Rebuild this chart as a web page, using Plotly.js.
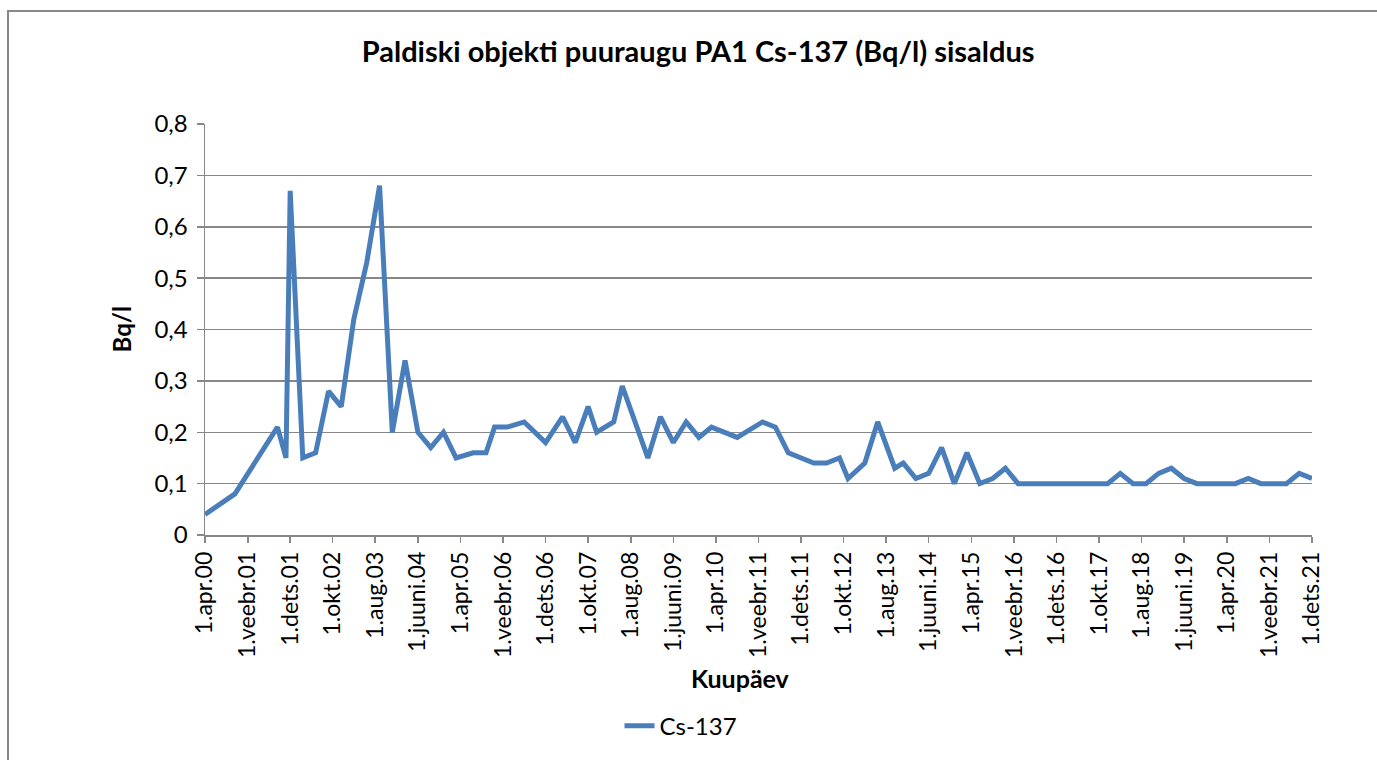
<!DOCTYPE html>
<html>
<head>
<meta charset="utf-8">
<script src="https://cdn.plot.ly/plotly-3.0.1.min.js"></script>
<style>
  html, body { margin: 0; padding: 0; background: #fff; overflow: hidden; }
  #frame { position: absolute; left: 7px; top: 10px; width: 1400px; height: 800px; border-left: 2px solid #878787; border-top: 2px solid #878787; }
  #chart { position: absolute; left: 0; top: 0; width: 1377px; height: 760px; }
</style>
</head>
<body>
<div id="frame"></div>
<div id="chart"></div>
<script>
// Sampling dates and Cs-137 values (Bq/l)
const dates = [
  "2000-04-01","2000-11-01","2001-09-01","2001-11-01","2001-12-01",
  "2002-03-01","2002-06-01","2002-09-01","2002-12-01",
  "2003-03-01","2003-06-01","2003-09-01","2003-12-01",
  "2004-03-01","2004-06-01","2004-09-01","2004-12-01",
  "2005-03-01","2005-07-01","2005-10-01","2005-12-01",
  "2006-03-01","2006-07-01","2006-12-01",
  "2007-04-01","2007-07-01","2007-10-01","2007-12-01",
  "2008-04-01","2008-06-01","2008-12-01",
  "2009-03-01","2009-06-01","2009-09-01","2009-12-01",
  "2010-03-01","2010-09-01",
  "2011-03-01","2011-06-01","2011-09-01",
  "2012-03-01","2012-06-01","2012-09-01","2012-11-01",
  "2013-03-01","2013-06-01","2013-10-01","2013-12-01",
  "2014-03-01","2014-06-01","2014-09-01","2014-12-01",
  "2015-03-01","2015-06-01","2015-09-01","2015-12-01",
  "2016-03-01","2016-06-01","2016-09-01","2016-12-01",
  "2017-03-01","2017-06-01","2017-09-01","2017-12-01",
  "2018-03-01","2018-06-01","2018-09-01","2018-12-01",
  "2019-03-01","2019-06-01","2019-09-01","2019-12-01",
  "2020-03-01","2020-06-01","2020-09-01","2020-12-01",
  "2021-03-01","2021-06-01","2021-09-01","2021-12-01"
];
const cs137 = [
  0.04, 0.08, 0.21, 0.15, 0.67,
  0.15, 0.16, 0.28, 0.25,
  0.42, 0.53, 0.68, 0.20,
  0.34, 0.20, 0.17, 0.20,
  0.15, 0.16, 0.16, 0.21,
  0.21, 0.22, 0.18,
  0.23, 0.18, 0.25, 0.20,
  0.22, 0.29, 0.15,
  0.23, 0.18, 0.22, 0.19,
  0.21, 0.19,
  0.22, 0.21, 0.16,
  0.14, 0.14, 0.15, 0.11,
  0.14, 0.22, 0.13, 0.14,
  0.11, 0.12, 0.17, 0.10,
  0.16, 0.10, 0.11, 0.13,
  0.10, 0.10, 0.10, 0.10,
  0.10, 0.10, 0.10, 0.10,
  0.12, 0.10, 0.10, 0.12,
  0.13, 0.11, 0.10, 0.10,
  0.10, 0.10, 0.11, 0.10,
  0.10, 0.10, 0.12, 0.11
];
const tickDates = [
  "2000-04-01","2001-02-01","2001-12-01","2002-10-01","2003-08-01","2004-06-01",
  "2005-04-01","2006-02-01","2006-12-01","2007-10-01","2008-08-01","2009-06-01",
  "2010-04-01","2011-02-01","2011-12-01","2012-10-01","2013-08-01","2014-06-01",
  "2015-04-01","2016-02-01","2016-12-01","2017-10-01","2018-08-01","2019-06-01",
  "2020-04-01","2021-02-01","2021-12-01"
];
const tickLabels = [
  "1.apr.00","1.veebr.01","1.dets.01","1.okt.02","1.aug.03","1.juuni.04",
  "1.apr.05","1.veebr.06","1.dets.06","1.okt.07","1.aug.08","1.juuni.09",
  "1.apr.10","1.veebr.11","1.dets.11","1.okt.12","1.aug.13","1.juuni.14",
  "1.apr.15","1.veebr.16","1.dets.16","1.okt.17","1.aug.18","1.juuni.19",
  "1.apr.20","1.veebr.21","1.dets.21"
];
const seriesName = "Cs-137";

const FONT = "Lato, 'Open Sans', sans-serif";
const GREY = "#878787";

const trace = {
  x: dates, y: cs137, type: "scatter", mode: "lines", name: seriesName,
  line: { color: "#4A7EBB", width: 5, shape: "linear" }
};

const layout = {
  width: 1377, height: 760,
  paper_bgcolor: "rgba(0,0,0,0)", plot_bgcolor: "rgba(0,0,0,0)",
  separators: ", ",
  margin: { l: 205, r: 65, t: 124, b: 221 },
  font: { family: FONT, color: "#000", size: 22 },
  title: {
    text: "<b>Paldiski objekti puuraugu PA1 Cs-137 (Bq/l) sisaldus</b>",
    font: { family: FONT, size: 29, color: "#000" },
    x: 0.507, xref: "container", xanchor: "center",
    y: 0.932, yref: "container", yanchor: "middle"
  },
  xaxis: {
    type: "date",
    range: ["2000-04-01", "2021-12-01"],
    tickmode: "array", tickvals: tickDates, ticktext: tickLabels,
    tickangle: -90, ticks: "outside", ticklen: 6, tickcolor: GREY, tickwidth: 1.5,
    tickfont: { family: FONT, size: 23, color: "#000" },
    showgrid: false, zeroline: false,
    showline: true, linecolor: GREY, linewidth: 1.5
  },
  yaxis: {
    range: [0, 0.8], dtick: 0.1, tick0: 0,
    ticks: "outside", ticklen: 7, tickcolor: GREY, tickwidth: 1.5,
    tickfont: { family: FONT, size: 24, color: "#000" },
    showgrid: true, gridcolor: GREY, gridwidth: 1.5,
    zeroline: false, showline: true, linecolor: GREY, linewidth: 1.5,
    ticklabelstandoff: 4
  },
  showlegend: true,
  legend: {
    orientation: "h", x: 0.43, xanchor: "center", y: -0.465, yanchor: "middle",
    font: { family: FONT, size: 24, color: "#000" },
    bgcolor: "rgba(0,0,0,0)"
  },
  annotations: [
    { text: "<b>Kuupäev</b>", xref: "paper", yref: "paper", x: 0.484, y: -0.347,
      xanchor: "center", yanchor: "middle", showarrow: false,
      font: { family: FONT, size: 25, color: "#000" } },
    { text: "<b>Bq/l</b>", xref: "paper", yref: "paper", x: -0.075, y: 0.5,
      xanchor: "center", yanchor: "middle", showarrow: false, textangle: -90,
      font: { family: FONT, size: 24, color: "#000" } }
  ]
};

Plotly.newPlot("chart", [trace], layout, { displayModeBar: false, staticPlot: true });
</script>
</body>
</html>
